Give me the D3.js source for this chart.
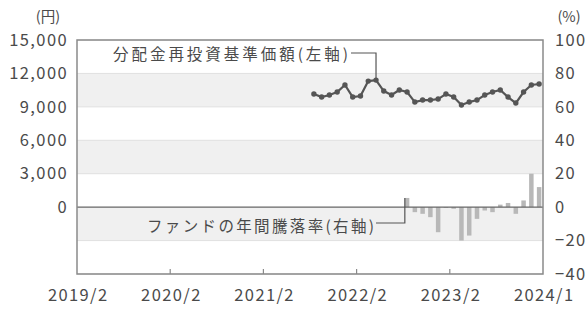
<!DOCTYPE html>
<html>
<head>
<meta charset="utf-8">
<script src="https://cdn.jsdelivr.net/npm/d3@7"></script>
<style>
  body { margin: 0; background: #fff; }
  svg text { font-family: "Noto Sans CJK JP", "Noto Sans", sans-serif; fill: #4a4a4a; }
</style>
</head>
<body>
<div id="chart"></div>
<script>
// Month labels on the x axis (first month of the axis is 2019/2)
var xTickLabels = ["2019/2", "2020/2", "2021/2", "2022/2", "2023/2", "2024/1"];
var leftTicks = [0, 3000, 6000, 9000, 12000, 15000];
var rightTicks = [-40, -20, 0, 20, 40, 60, 80, 100];

// 分配金再投資基準価額 (monthly, from 2021/8)
var navStart = "2021/8";
var navValues = [10150, 9880, 10060, 10330, 10960, 9880, 9970, 11310, 11400, 10420,
                 10060, 10510, 10330, 9430, 9610, 9610, 9700, 10150, 9880, 9160,
                 9430, 9610, 10060, 10330, 10510, 9880, 9340, 10330, 10960, 11050];

// ファンドの年間騰落率 (%), monthly from 2022/8
var returnStart = "2022/8";
var returnValues = [5.5, -3, -4, -6, -15, -0.5, -1, -20, -17, -7,
                    -2, -3, 1.5, 2.5, -4, 4, 20, 12];

var width = 587, height = 309;
var margin = {top: 40, right: 44, bottom: 35, left: 77};

function monthIndex(s) {
    var p = s.split("/");
    return (+p[0] - 2019) * 12 + (+p[1] - 2);
}

var svg = d3.select("#chart").append("svg")
    .attr("width", width).attr("height", height);

var x = d3.scaleLinear().domain([0, 60]).range([margin.left, width - margin.right]);
var yL = d3.scaleLinear().domain([-6000, 15000]).range([height - margin.bottom, margin.top]);
var yR = d3.scaleLinear().domain([-40, 100]).range([height - margin.bottom, margin.top]);

// Alternating bands
for (var i = 0; i < rightTicks.length - 1; i++) {
    var lo = rightTicks[i], hi = rightTicks[i + 1];
    if ((rightTicks.length - 2 - i) % 2 === 1) {
        svg.append("rect")
            .attr("x", x(0)).attr("width", x(60) - x(0))
            .attr("y", yR(hi)).attr("height", yR(lo) - yR(hi))
            .attr("fill", "#f0f0f0");
    }
}

// Grid lines
svg.append("g").selectAll("line")
    .data(rightTicks.filter(function(d) { return d !== 0; }))
    .enter().append("line")
    .attr("x1", x(0)).attr("x2", x(60))
    .attr("y1", function(d) { return yR(d); })
    .attr("y2", function(d) { return yR(d); })
    .attr("stroke", "#e0e0e0").attr("stroke-width", 1);

// Bars
var bw = 4.5;
var r0 = monthIndex(returnStart);
svg.append("g").selectAll("rect")
    .data(returnValues)
    .enter().append("rect")
    .attr("x", function(d, i) { return x(r0 + i + 0.5) - bw / 2; })
    .attr("width", bw)
    .attr("y", function(d) { return yR(Math.max(0, d)); })
    .attr("height", function(d) { return Math.abs(yR(d) - yR(0)); })
    .attr("fill", "#b8b8b8");

// Zero line
svg.append("line")
    .attr("x1", x(0)).attr("x2", x(60))
    .attr("y1", yR(0)).attr("y2", yR(0))
    .attr("stroke", "#666").attr("stroke-width", 1.2);

// NAV line
var n0 = monthIndex(navStart);
var line = d3.line()
    .x(function(d, i) { return x(n0 + i + 0.5); })
    .y(function(d) { return yL(d); });
svg.append("path")
    .datum(navValues)
    .attr("d", line)
    .attr("fill", "none")
    .attr("stroke", "#555").attr("stroke-width", 2.2);
svg.append("g").selectAll("circle")
    .data(navValues)
    .enter().append("circle")
    .attr("cx", function(d, i) { return x(n0 + i + 0.5); })
    .attr("cy", function(d) { return yL(d); })
    .attr("r", 2.7)
    .attr("fill", "#555");

// Plot border
svg.append("rect")
    .attr("x", x(0)).attr("y", margin.top)
    .attr("width", x(60) - x(0)).attr("height", height - margin.bottom - margin.top)
    .attr("fill", "none").attr("stroke", "#8a8a8a").attr("stroke-width", 1.5);

// Inner x ticks
svg.append("g").selectAll("line")
    .data([12, 24, 36, 48])
    .enter().append("line")
    .attr("x1", function(d) { return x(d); }).attr("x2", function(d) { return x(d); })
    .attr("y1", height - margin.bottom).attr("y2", height - margin.bottom - 5)
    .attr("stroke", "#8a8a8a").attr("stroke-width", 1.2);

// Axes
var xAxis = d3.axisBottom(x)
    .tickValues([0, 12, 24, 36, 48, 60])
    .tickFormat(function(d, i) { return xTickLabels[i]; })
    .tickSize(0).tickPadding(15);
var gx = svg.append("g")
    .attr("transform", "translate(0," + (height - margin.bottom) + ")")
    .call(xAxis);

var yAxisL = d3.axisLeft(yL).tickValues(leftTicks).tickFormat(d3.format(",")).tickSize(0).tickPadding(9);
var gyl = svg.append("g")
    .attr("transform", "translate(" + x(0) + ",0)")
    .call(yAxisL);

var yAxisR = d3.axisRight(yR).tickValues(rightTicks).tickFormat(d3.format("d")).tickSize(0).tickPadding(12);
var gyr = svg.append("g")
    .attr("transform", "translate(" + x(60) + ",0)")
    .call(yAxisR);

[gx, gyl, gyr].forEach(function(g) {
    g.select(".domain").remove();
    g.selectAll("text").attr("font-size", 16.5).attr("fill", "#4a4a4a")
        .attr("letter-spacing", 1.4)
        .style("font-family", '"Noto Sans CJK JP", sans-serif');
});
gx.selectAll("text").attr("dx", 0.7);

// Unit labels
svg.append("text").attr("x", 48).attr("y", 22).attr("text-anchor", "middle")
    .attr("font-size", 14.5).text("(円)");
svg.append("text").attr("x", 569).attr("y", 22).attr("text-anchor", "middle")
    .attr("font-size", 14.5).text("(%)");

// Annotations
var navPeak = 38 - n0;
var ax1 = x(n0 + navPeak + 0.5), ay1 = yL(navValues[navPeak]);
svg.append("text").attr("x", 113).attr("y", 60)
    .attr("font-size", 15.5).attr("textLength", 235).attr("lengthAdjust", "spacing")
    .text("分配金再投資基準価額(左軸)");
svg.append("polyline")
    .attr("points", [[351, 53], [ax1, 53], [ax1, ay1]].join(" "))
    .attr("fill", "none").attr("stroke", "#555").attr("stroke-width", 1.2);

var bx2 = x(r0 + 0.5) - bw / 2, by2 = yR(returnValues[0]);
svg.append("text").attr("x", 147).attr("y", 232)
    .attr("font-size", 15.5).attr("textLength", 227).attr("lengthAdjust", "spacing")
    .text("ファンドの年間騰落率(右軸)");
svg.append("polyline")
    .attr("points", [[376, 223], [bx2, 223], [bx2, by2]].join(" "))
    .attr("fill", "none").attr("stroke", "#555").attr("stroke-width", 1.2);
</script>
</body>
</html>
